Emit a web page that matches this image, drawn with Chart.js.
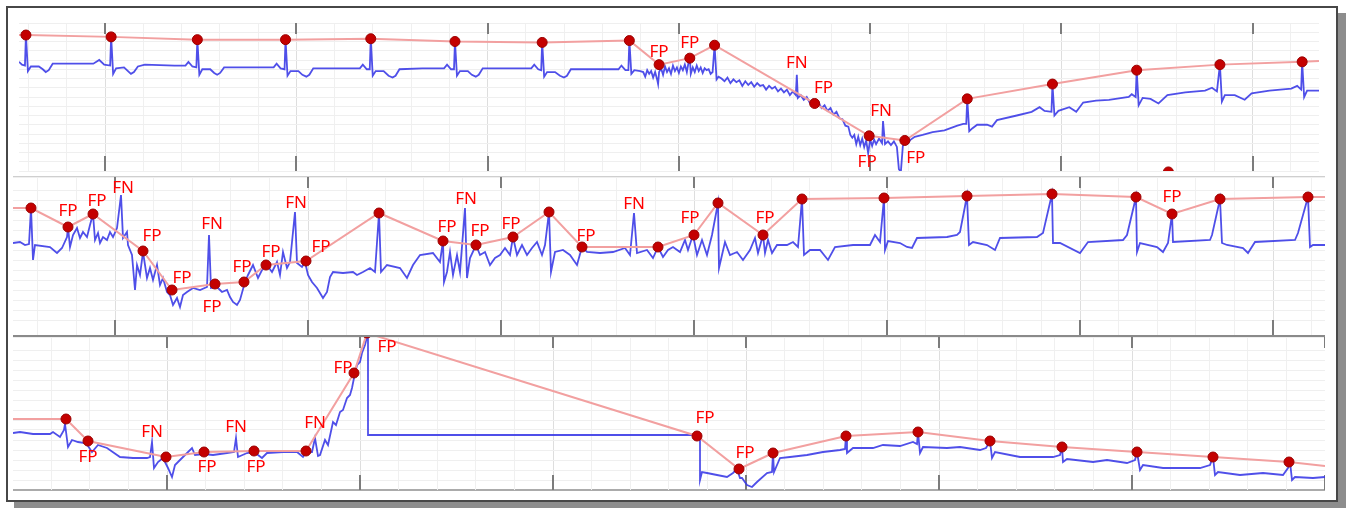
<!DOCTYPE html>
<html>
<head>
<meta charset="utf-8">
<script src="https://cdn.jsdelivr.net/npm/chart.js@4.4.0/dist/chart.umd.min.js"></script>
<style>
  html, body { margin: 0; padding: 0; background: #fff; }
  body { width: 1346px; height: 508px; position: relative; overflow: hidden; }
  .frame { position: absolute; left: 6px; top: 6px; width: 1332px; height: 496px; box-sizing: border-box;
           border: 2px solid #474747; box-shadow: 8px 7px 0 0 #8d8d8d; background: #fff; }
  .sep { position: absolute; left: 13px; width: 1312px; }
  canvas.strip { position: absolute; left: 13px; }
</style>
</head>
<body>
<div class="frame"></div>
<div class="sep" style="top:176px;height:1px;background:#cfcfcf"></div>
<div class="sep" style="top:335px;height:3px;background:#8a8a8a"></div>
<div class="sep" style="top:489px;height:2px;background:#ababab"></div>
<canvas id="strip1" class="strip" width="1312" height="160" style="top:17px"></canvas>
<canvas id="strip2" class="strip" width="1312" height="158" style="top:177px"></canvas>
<canvas id="strip3" class="strip" width="1312" height="153" style="top:337px"></canvas>
<script>
// x = sample position, y = raw lead value (screen-oriented, axis reversed)

// ---- row 1 ----
const s1Major = [100, 293, 487, 680, 873, 1067, 1260];
const s1Trace = [
  [13,59],[16,62],[19,63],[20,30],[22,69],[25,64],[33,64],[37,67],[40,70],[43,68],[47,61],[60,61],[80,61],[88,61],[94,57],[99,62],
  [105,63],[106,32],[108,72],[111,66],[119,65],[123,69],[126,72],[129,70],[133,64],[140,62],[170,63],[181,63],[184,59],[188,64],
  [192,65],[193,35],[195,73],[198,67],[206,67],[210,71],[213,73],[216,71],[220,65],[250,65],[270,65],[273,61],[277,66],[281,67],
  [282,35],[284,74],[287,69],[295,69],[299,73],[303,75],[306,73],[310,66],[340,66],[357,66],[360,62],[364,67],[367,67],
  [368,34],[370,74],[373,69],[381,69],[386,74],[390,76],[393,74],[397,67],[420,66],[442,66],[445,62],[449,67],[452,67],
  [453,37],[455,74],[458,69],[466,69],[470,73],[474,75],[477,73],[481,66],[510,66],[530,66],[533,62],[537,67],[540,68],
  [541,38],[543,75],[546,70],[554,70],[559,74],[563,76],[566,74],[570,67],[600,67],[618,67],[621,63],[625,68],[628,68],
  [629,36],[631,72],[634,68],[640,69],[643,70],[645,75],[647,68],[649,72],[651,69],[653,76],[655,70],[657,78],
  [658,83],[659,70],[661,66],[663,73],[665,64],[667,70],[669,66],[671,72],[673,63],[675,69],[677,65],[679,71],
  [681,64],[683,68],[685,62],[687,70],[689,58],[690,55],[691,72],[693,65],[695,70],[697,63],[699,69],[701,65],
  [703,71],[705,66],[707,68],[709,67],[711,72],[713,70],[715,41],[717,78],[719,75],
  [722,77],[725,80],[728,76],[731,82],[734,78],[737,81],[740,79],[743,85],[746,80],[749,84],[752,81],[755,86],
  [758,82],[761,85],[764,84],[767,89],[770,85],[773,88],[776,86],[779,91],[782,88],[785,92],[788,89],[791,95],
  [794,91],[797,95],[798,73],[799,98],[802,95],[805,100],[808,97],[811,103],[814,100],[817,106],[820,103],[823,109],
  [826,106],[829,112],[832,109],[835,116],[838,113],[841,120],[844,121],[847,128],[850,129],[852,138],[854,141],
  [856,138],[858,148],[860,140],[862,149],[864,142],[866,151],[868,144],[870,158],[872,143],[874,150],[876,143],
  [878,148],[881,142],[884,147],[885,123],[887,148],[890,145],[893,149],[896,145],[899,151],[901,175],[903,178],
  [905,150],[907,146],[910,147],[913,143],[917,140],[925,138],[935,135],[947,133],[960,128],[966,126],[969,126],
  [970,99],[972,134],[975,131],[980,127],[990,127],[995,129],[1000,122],[1020,117],[1035,113],[1043,108],[1048,112],
  [1055,113],[1056,83],[1058,117],[1062,112],[1073,108],[1080,113],[1087,103],[1100,101],[1113,100],[1133,97],
  [1136,94],[1140,97],[1141,68],[1143,106],[1147,98],[1155,99],[1163,104],[1172,95],[1190,92],[1210,90],[1217,87],
  [1222,91],[1225,62],[1227,102],[1230,95],[1240,95],[1250,100],[1257,93],[1275,90],[1297,88],[1303,85],[1307,89],
  [1308,59],[1310,97],[1313,90],[1325,90]
];
const s1Beats = [
  [13,30],[20,30],[106,32],[193,35],[282,35],[368,34],[453,37],[541,38],[629,36],[659,62],[690,55],[715,41],
  [816,104],[871,139],[907,144],[970,99],[1056,83],[1141,68],[1225,62],[1308,59],[1325,58]
];
const s1EdgeDot = [[1173,178]];
const s1Labels = [
  ['FP',659,48],['FP',690,39],['FN',798,60],['FP',825,87],['FN',883,112],['FP',869,167],['FP',918,163]
];

// ---- row 2 ----
const s2Major = [115, 308, 502, 695, 888, 1082, 1275];
const s2Trace = [
  [13,243],[20,242],[25,245],[29,244],[31,208],[33,260],[35,245],[50,247],[57,253],[62,248],[67,237],[68,227],
  [70,247],[73,235],[77,228],[80,238],[83,232],[87,237],[90,225],[93,214],[95,240],[98,233],[100,243],[103,237],
  [107,240],[110,232],[113,237],[117,228],[121,195],[123,238],[127,232],[128,245],[132,255],[135,290],[137,265],
  [140,275],[143,252],[147,278],[150,268],[153,280],[157,265],[160,285],[163,278],[167,292],[170,295],[173,305],
  [177,298],[180,307],[183,295],[187,292],[193,288],[200,290],[207,287],[209,235],[211,288],[217,287],[222,292],
  [227,290],[230,297],[233,302],[237,305],[240,300],[245,282],[248,275],[253,265],[258,278],[263,268],[267,265],
  [272,272],[277,262],[280,275],[283,252],[287,268],[290,262],[295,212],[297,263],[302,267],[305,262],[308,275],
  [312,282],[317,288],[323,298],[327,292],[330,277],[333,272],[343,273],[353,272],[357,275],[363,272],[370,268],
  [375,272],[379,213],[381,272],[387,265],[400,268],[407,278],[413,265],[420,255],[433,253],[440,262],[443,241],
  [444,282],[447,272],[450,252],[453,275],[457,255],[460,272],[465,208],[467,278],[470,258],[476,245],[480,255],
  [485,252],[490,265],[495,258],[500,255],[505,248],[510,255],[513,237],[517,255],[522,245],[527,255],[532,248],
  [537,242],[542,255],[545,245],[549,212],[551,272],[555,252],[563,250],[570,255],[577,265],[582,247],[587,252],
  [600,253],[613,252],[625,248],[630,255],[634,213],[637,253],[647,250],[653,258],[658,247],[663,257],[668,250],
  [673,247],[680,252],[685,240],[688,250],[693,235],[697,255],[702,240],[707,255],[712,235],[718,203],[719,268],
  [722,255],[725,242],[730,255],[737,252],[743,260],[750,250],[755,238],[758,253],[763,235],[765,253],[768,240],
  [772,253],[777,245],[787,245],[793,242],[798,247],[802,199],[804,255],[810,250],[820,250],[828,260],[835,247],
  [853,245],[870,245],[875,235],[880,242],[884,198],[885,250],[888,241],[900,243],[907,247],[912,248],[917,238],
  [947,237],[957,235],[960,232],[967,196],[969,245],[973,242],[987,245],[995,250],[1000,238],[1037,237],
  [1043,233],[1052,194],[1053,243],[1060,243],[1080,253],[1088,242],[1123,240],[1127,235],[1136,197],[1137,252],
  [1140,243],[1157,247],[1163,252],[1168,243],[1172,214],[1173,242],[1210,240],[1212,235],[1220,199],[1222,243],
  [1227,245],[1243,248],[1248,253],[1255,242],[1295,240],[1298,233],[1308,197],[1310,247],[1313,245],[1325,245]
];
const s2Beats = [
  [13,208],[31,208],[68,227],[93,214],[143,251],[172,290],[215,284],[244,282],[266,265],[306,261],[379,213],
  [443,241],[476,245],[513,237],[549,212],[582,247],[658,247],[694,235],[718,203],[763,235],[802,199],[884,198],
  [967,196],[1052,194],[1136,197],[1172,214],[1220,199],[1308,197],[1325,197]
];
const s2Labels = [
  ['FP',68,211],['FP',97,201],['FN',123,188],['FP',152,236],['FN',212,224],['FP',182,278],['FP',212,307],
  ['FP',242,267],['FP',271,252],['FN',296,203],['FP',321,247],['FP',447,227],['FN',466,199],['FP',480,231],
  ['FP',511,224],['FP',586,236],['FN',634,204],['FP',690,218],['FP',765,218],['FP',1172,197]
];

// ---- row 3 ----
const s3Major = [167, 360, 553, 747, 940, 1133];
const s3Trace = [
  [13,433],[20,432],[33,434],[50,434],[53,432],[60,437],[64,430],[65,424],[68,447],[72,440],[78,442],[85,443],
  [88,446],[92,452],[98,445],[107,448],[120,457],[133,458],[147,458],[150,457],[152,442],[154,468],[158,462],
  [163,458],[168,468],[172,477],[175,465],[182,458],[192,448],[195,455],[204,454],[213,455],[227,453],[234,452],
  [236,438],[238,457],[247,453],[254,452],[262,458],[267,453],[283,452],[297,452],[303,457],[306,452],[312,452],
  [315,438],[318,456],[320,455],[325,440],[328,445],[333,422],[336,425],[340,412],[343,410],[347,398],[350,395],
  [352,388],[354,378],[357,365],[360,362],[362,353],[365,345],[367,337],[368,337],[368,435],[697,435],[700,436],
  [700,480],[702,472],[707,473],[717,475],[727,477],[733,473],[737,469],[740,478],[742,478],[747,485],[752,487],
  [757,482],[767,473],[772,472],[773,453],[774,472],[780,458],[790,457],[807,455],[823,452],[840,450],[845,449],
  [846,436],[847,453],[853,448],[873,448],[883,445],[900,446],[913,442],[917,444],[918,432],[920,453],[923,447],
  [947,448],[960,447],[980,450],[986,448],[990,441],[992,458],[995,452],[1020,457],[1053,457],[1060,455],
  [1062,447],[1063,462],[1067,459],[1093,462],[1107,460],[1127,463],[1135,460],[1137,452],[1140,470],[1143,465],
  [1163,468],[1180,468],[1200,468],[1210,465],[1213,457],[1215,475],[1218,472],[1240,475],[1263,473],[1283,475],
  [1288,468],[1290,462],[1292,480],[1295,477],[1313,478],[1325,477]
];
const s3Beats = [
  [13,419],[66,419],[88,441],[166,457],[204,452],[254,451],[306,451],[354,373],[367,333],[697,436],[739,469],
  [773,453],[846,436],[918,432],[990,441],[1062,447],[1137,452],[1213,457],[1289,462],[1325,466]
];
const s3Labels = [
  ['FP',88,457],['FN',152,432],['FP',207,467],['FN',236,427],['FP',256,467],['FN',315,423],['FP',343,368],
  ['FP',387,347],['FP',705,418],['FP',745,453]
];

const X_MIN = 13, X_MAX = 1325;

function gridTicks(major) {
  const step = (major[1] - major[0]) / 5;
  let start = major[0], k0 = 0;
  while (start - step >= X_MIN) { start -= step; k0++; }
  const out = [];
  for (let i = 0, v = start; v <= X_MAX + 0.5; i++, v = start + i * step) {
    out.push({ value: v, major: (i - k0) % 5 === 0 });
  }
  return out;
}

const stripDecor = {
  id: 'stripDecor',
  beforeDatasetsDraw(chart) {
    const { ctx, chartArea: a, scales: { x } } = chart;
    ctx.save();
    ctx.strokeStyle = '#7c7c7c';
    ctx.lineWidth = 2;
    x.ticks.filter(t => t.major).forEach(t => {
      const px = Math.round(x.getPixelForValue(t.value));
      ctx.beginPath();
      ctx.moveTo(px, a.top); ctx.lineTo(px, a.top + 11);
      ctx.moveTo(px, a.bottom - 15); ctx.lineTo(px, a.bottom);
      ctx.stroke();
    });
    ctx.restore();
  },
  afterDatasetsDraw(chart, args, opts) {
    const { ctx, scales: { x, y } } = chart;
    ctx.save();
    ctx.fillStyle = '#ff0000';
    ctx.font = '17px "Noto Sans", sans-serif';
    ctx.textAlign = 'center';
    ctx.textBaseline = 'middle';
    opts.labels.forEach(([t, lx, ly]) => ctx.fillText(t, x.getPixelForValue(lx), y.getPixelForValue(ly)));
    ctx.restore();
  }
};

function makeStrip(id, yMin, yMax, major, trace, beats, labels, extra) {
  const last = beats.length - 1;
  const datasets = [
    {
      data: beats.map(([x, y]) => ({ x, y })),
      borderColor: '#f2a0a0',
      borderWidth: 2,
      pointRadius: c => (c.dataIndex === 0 || c.dataIndex === last) ? 0 : 5,
      pointBackgroundColor: '#c40000',
      pointBorderColor: '#9a0000',
      pointBorderWidth: 1,
      order: 0
    },
    {
      data: trace.map(([x, y]) => ({ x, y })),
      borderColor: 'rgba(55,55,230,0.88)',
      borderWidth: 1.8,
      pointRadius: 0,
      order: 2
    }
  ];
  if (extra) {
    datasets.push({
      data: extra.map(([x, y]) => ({ x, y })),
      showLine: false,
      pointRadius: 5,
      pointBackgroundColor: '#c40000',
      pointBorderColor: '#9a0000',
      order: 1
    });
  }
  new Chart(document.getElementById(id), {
    type: 'line',
    data: { datasets },
    options: {
      responsive: false,
      animation: false,
      layout: { padding: 0 },
      elements: { line: { tension: 0 } },
      plugins: { legend: { display: false }, tooltip: { enabled: false }, stripDecor: { labels } },
      scales: {
        x: {
          type: 'linear', min: X_MIN, max: X_MAX,
          ticks: { display: false },
          border: { display: false },
          grid: { drawTicks: false, color: c => (c.tick && c.tick.major) ? '#dedede' : '#f0f0f0' },
          afterBuildTicks: s => { s.ticks = gridTicks(major); }
        },
        y: {
          min: yMin, max: yMax, reverse: true,
          ticks: { display: false, stepSize: 10 },
          border: { display: false },
          grid: { drawTicks: false, color: '#efefef' }
        }
      }
    },
    plugins: [stripDecor]
  });
}

makeStrip('strip1', 17, 177, s1Major, s1Trace, s1Beats, s1Labels, s1EdgeDot);
makeStrip('strip2', 177, 335, s2Major, s2Trace, s2Beats, s2Labels);
makeStrip('strip3', 337, 490, s3Major, s3Trace, s3Beats, s3Labels);
</script>
</body>
</html>
